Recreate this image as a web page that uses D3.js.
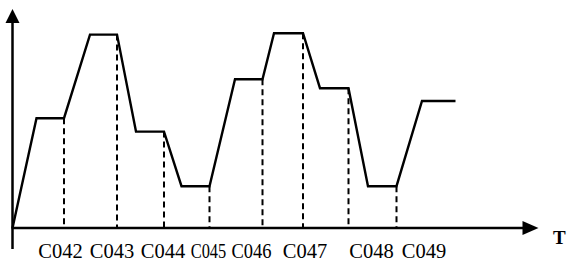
<!DOCTYPE html>
<html>
<head>
<meta charset="utf-8">
<script src="https://cdn.jsdelivr.net/npm/d3@7"></script>
<style>
  html, body { margin: 0; padding: 0; background: #fff; }
  svg { display: block; }
</style>
</head>
<body>
<svg id="chart" width="569" height="262"></svg>
<script>
// ---- data ----
const pointT = [0, 4.8, 10.3, 15.5, 20.9, 24.7, 30.3, 33.8, 39.4, 44.5, 50, 52.3, 58.1, 61.5, 67.2, 71.1, 76.8, 81.9, 88.6];
const pointV = [0, 54.9, 54.9, 96.7, 96.7, 48.2, 48.2, 20.9, 20.9, 74.4, 74.4, 97.4, 97.4, 69.9, 69.9, 20.9, 20.9, 63.5, 63.5];
const dashIndex = [2, 4, 6, 8, 10, 12, 14, 16];
const categories = ["C042", "C043", "C044", "C045", "C046", "C047", "C048", "C049"];
const labelT = [9.5, 19.8, 30.0, 39.1, 47.7, 58.4, 71.7, 82.2];
const axisLabel = "T";

const SERIF = '"Liberation Serif", "Times New Roman", serif';
// ---- scales ----
const svg = d3.select("#chart");
const x = d3.scaleLinear().domain([0, 105]).range([12.5, 537.5]);
const y = d3.scaleLinear().domain([0, 100]).range([228, 28]);

// dashed guide lines
svg.append("g").selectAll("line").data(dashIndex).join("line")
  .attr("x1", i => x(pointT[i])).attr("x2", i => x(pointT[i]))
  .attr("y1", i => y(pointV[i])).attr("y2", y(0))
  .attr("stroke", "#000").attr("stroke-width", 2)
  .attr("stroke-dasharray", "6,4");

// main polyline
const pts = pointT.map((t, i) => [t, pointV[i]]);
svg.append("path").datum(pts)
  .attr("d", d3.line().x(d => x(d[0])).y(d => y(d[1])))
  .attr("fill", "none").attr("stroke", "#000").attr("stroke-width", 2.4)
  .attr("stroke-linejoin", "miter");

// x axis line with arrow
const xEnd = x(105);
svg.append("line").attr("x1", x(0) - 1).attr("x2", xEnd - 10).attr("y1", y(0)).attr("y2", y(0))
  .attr("stroke", "#000").attr("stroke-width", 2.5);
svg.append("path")
  .attr("d", `M${xEnd + 1},${y(0)} L${xEnd - 15},${y(0) - 7} L${xEnd - 15},${y(0) + 7} Z`)
  .attr("fill", "#000");

// y axis line with arrow
const yTop = 9;
svg.append("line").attr("x1", x(0)).attr("x2", x(0)).attr("y1", 249).attr("y2", yTop + 10)
  .attr("stroke", "#000").attr("stroke-width", 2.5);
svg.append("path")
  .attr("d", `M${x(0)},${yTop} L${x(0) - 7},${yTop + 14} L${x(0) + 7},${yTop + 14} Z`)
  .attr("fill", "#000");

// category tick labels via axis
const xAxis = d3.axisBottom(x).tickValues(labelT)
  .tickFormat((d, i) => categories[i]).tickSize(0).tickPadding(0);
const gx = svg.append("g").attr("transform", `translate(0,${y(0)})`).call(xAxis)
  .attr("font-family", SERIF).attr("font-size", 20.5);
gx.select(".domain").remove();
// the two middle labels are set tighter in the original
const condense = [1, 1, 1, 0.8, 0.9, 1, 1, 1];
gx.selectAll("text")
  .attr("y", 30).attr("dy", null)
  .style("font-family", SERIF)
  .style("font-size", "20.5px").attr("fill", "#000")
  .each(function (d, i) {
    if (condense[i] !== 1) {
      const w = this.getComputedTextLength();
      d3.select(this).attr("textLength", w * condense[i]).attr("lengthAdjust", "spacingAndGlyphs");
    }
  });

// axis title
svg.append("text").attr("x", 553).attr("y", 243.5)
  .style("font-family", SERIF)
  .style("font-weight", "bold").style("font-size", "19px").attr("fill", "#000")
  .text(axisLabel);
</script>
</body>
</html>
